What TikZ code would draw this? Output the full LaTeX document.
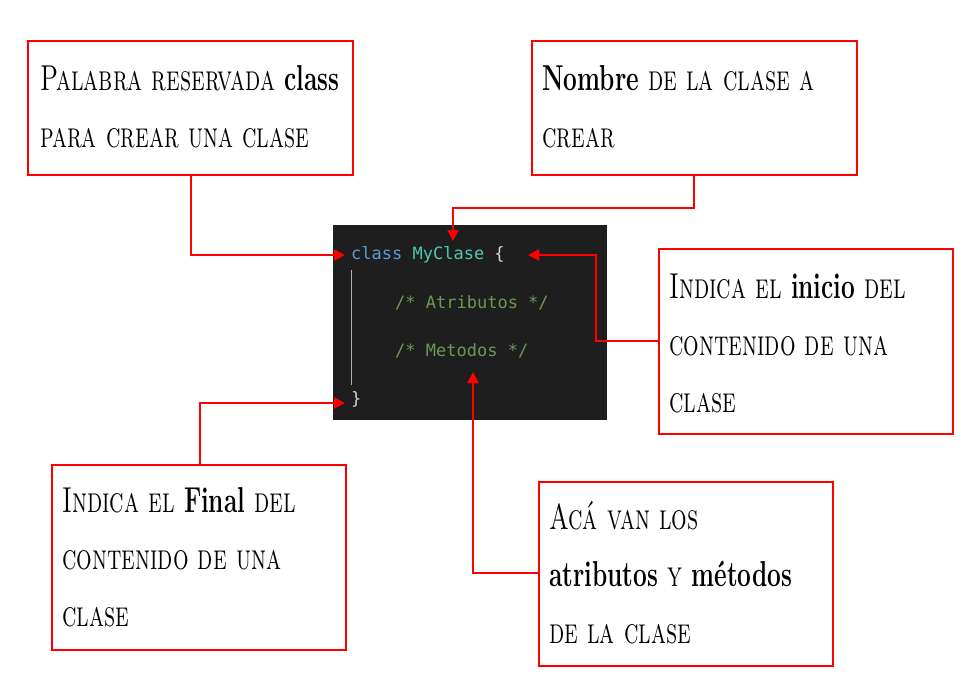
\documentclass[tikz,border=0pt]{standalone}
\usepackage{fontspec}
\usepackage{graphicx}
\setmonofont{DejaVu Sans Mono}
\usetikzlibrary{arrows.meta}
\definecolor{codebg}{HTML}{1E1E1E}
\definecolor{kw}{HTML}{569CD6}
\definecolor{cls}{HTML}{4EC9B0}
\definecolor{cmt}{HTML}{6A9955}
\definecolor{brc}{HTML}{D4D4D4}
\newcommand{\narrowtext}[1]{\scalebox{0.68}[1]{\begin{tabular}{@{}l@{}}#1\end{tabular}}}
\begin{document}
\begin{tikzpicture}[x=1pt,y=-1pt,
  box/.style={draw=red,line width=2pt,fill=white,inner sep=0pt},
  lbl/.style={anchor=west,inner sep=0pt,font=\fontsize{36}{57}\selectfont\scshape},
  arr/.style={draw=red,line width=2.5pt,-{Triangle[length=11pt,width=11pt]}},
  code/.style={anchor=west,font=\fontsize{17}{20}\ttfamily,inner sep=0pt}]
\useasboundingbox[fill=white] (0,0) rectangle (972,698);
% code block
\fill[codebg] (333,225) rectangle (607,420);
\draw[gray!60,line width=0.6pt] (351,270) -- (351,385);
\node[code] (c1) at (351,255) {\textcolor{kw}{class} \textcolor{cls}{MyClase} \textcolor{brc}{\{}};
\node[code,text=cmt] (c2) at (395,303) {/* Atributos */};
\node[code,text=cmt] (c3) at (395,351) {/* Metodos */};
\node[code,text=brc] (c4) at (351,399) {\}};
% boxes
\draw[box] (28,41) rectangle (353,175);
\node[lbl] (t1) at (40,108) {\narrowtext{Palabra reservada \textbf{class}\\para crear una clase}};
\draw[box] (532,41) rectangle (857,175);
\node[lbl] (t2) at (542,108) {\narrowtext{\textbf{Nombre} de la clase a\\crear}};
\draw[box] (659,249) rectangle (953,434);
\node[lbl] (t3) at (669,344) {\narrowtext{Indica el \textbf{inicio} del\\contenido de una\\clase}};
\draw[box] (52,465) rectangle (346,650);
\node[lbl] (t4) at (62,558) {\narrowtext{Indica el \textbf{Final} del\\contenido de una\\clase}};
\draw[box] (539,482) rectangle (833,666);
\node[lbl] (t5) at (549,575) {\narrowtext{Acá van los\\\textbf{atributos} y \textbf{métodos}\\de la clase}};
% anchor coordinates
\coordinate (b1) at (191,175); \coordinate (e1) at (345,255);
\coordinate (b2) at (694,175); \coordinate (e2) at (453,241);
\coordinate (b3) at (659,341); \coordinate (e3) at (528,255);
\coordinate (b4) at (200,465); \coordinate (e4) at (345,403);
\coordinate (b5) at (539,573); \coordinate (e5) at (473,372);
\draw[arr] (b1) |- (e1);
\draw[arr] (b2) -- (694,208) -| (e2);
\draw[arr] (b3) -| (596,255) -- (e3);
\draw[arr] (b4) |- (e4);
\draw[arr] (b5) -| (e5);
\end{tikzpicture}
\end{document}
